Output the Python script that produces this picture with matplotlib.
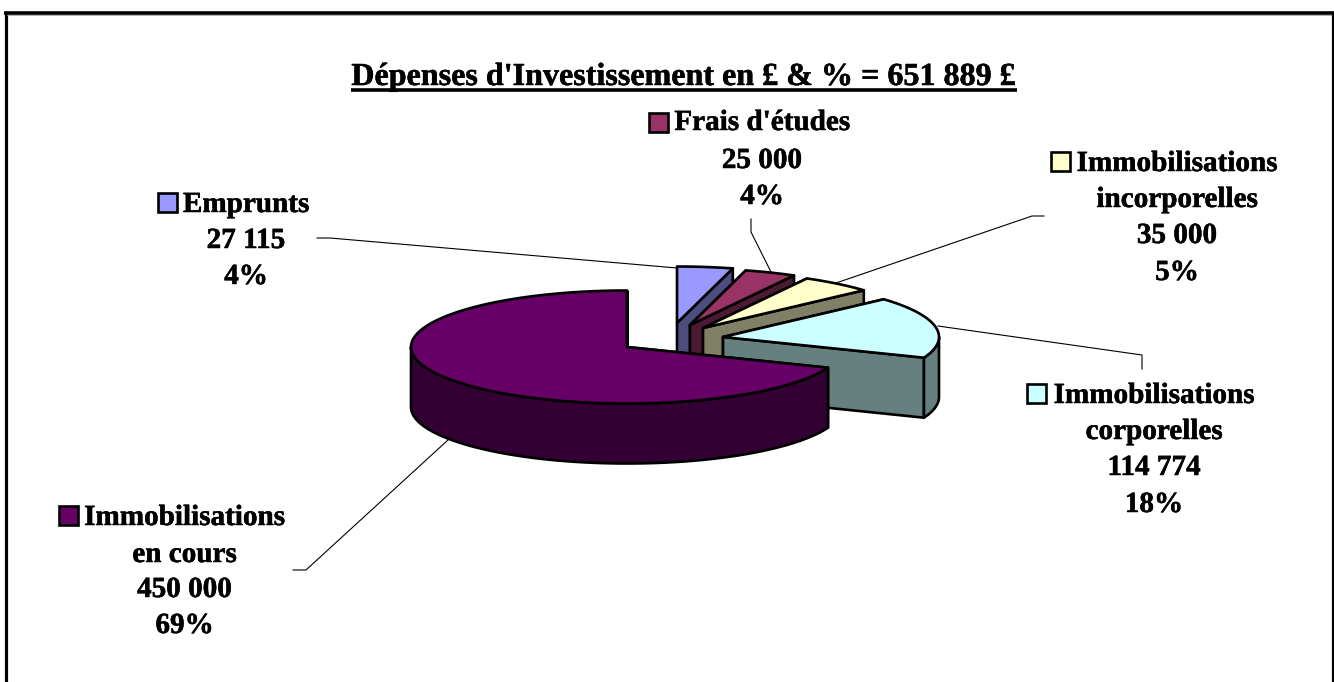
import numpy as np
import matplotlib
matplotlib.use("Agg")
import matplotlib.pyplot as plt
import matplotlib.patheffects as pe
from matplotlib.patches import Polygon, Rectangle

plt.rcParams['font.family'] = ['Liberation Serif', 'DejaVu Serif']

# ---- data (clockwise from 12 o'clock) ----
title = "Dépenses d'Investissement en £ & % = 651 889 £"
names = [["Emprunts"], ["Frais d'études"], ["Immobilisations", "incorporelles"],
         ["Immobilisations", "corporelles"], ["Immobilisations", "en cours"]]
values = [27115, 25000, 35000, 114774, 450000]
percents = ["4%", "4%", "5%", "18%", "69%"]

# ---- styles / layout (pixel space) ----
top_colors = ["#9999FF", "#993366", "#FFFFCC", "#CCFFFF", "#660066"]
side_colors = ["#4D4D80", "#4D1A33", "#808066", "#668080", "#330033"]
apexes = [(677, 323), (690, 325), (703, 328), (723, 337), (627, 347)]
RX, RY, DEPTH = 216, 56.5, 60
text_x = [246, 762, 1177, 1154, 184.5]
baselines = [[212, 248, 284], [130, 168, 204], [171, 207, 243, 280],
             [403, 439, 475, 512], [525, 562, 597, 633]]
keys = [(157, 192), (648, 112), (1050, 151), (1026, 383), (58, 505)]
leaders = [[(317, 238), (330, 238), (677, 268)],
           [(751, 219), (751, 232), (771, 272)],
           [(1044, 216), (1032, 216), (836, 283)],
           [(1142, 369), (1142, 355), (938, 326)],
           [(293, 570), (306, 570), (448, 440)]]
FS = 21
TITLE_FS = 23.1
LW = 1.9
BOLDER = [pe.withStroke(linewidth=0.35, foreground='k')]

fig = plt.figure(figsize=(13.34, 6.82), dpi=100)
ax = fig.add_axes([0, 0, 1, 1])
ax.set_xlim(0, 1334)
ax.set_ylim(682, 0)
ax.axis('off')

# frame
ax.plot([5.5, 5.5], [682, 12.5], color='k', lw=2.3, solid_capstyle='butt')
ax.plot([4, 1334], [12.5, 12.5], color='k', lw=2.6, solid_capstyle='butt')
ax.plot([7, 1332], [14.7, 14.7], color='#b0b0b0', lw=0.7, solid_capstyle='butt')
ax.plot([1333, 1333], [12, 682], color='k', lw=1.6, solid_capstyle='butt')


def arc(c, a0, a1, dy=0.0):
    t = np.radians(np.linspace(a0, a1, 120))
    return np.column_stack([c[0] + RX * np.sin(t), c[1] - RY * np.cos(t) + dy])


def poly(pts, color, z):
    ax.add_patch(Polygon(pts, closed=True, facecolor=color, edgecolor='k',
                         lw=LW, joinstyle='round', zorder=z))


# pie slices, back to front, angles from the values
angles = np.concatenate([[0], np.cumsum(values) / np.sum(values) * 360])
for i, (c, top, side) in enumerate(zip(apexes, top_colors, side_colors)):
    a0, a1 = angles[i], angles[i + 1]
    z = 3 + i
    for a in (a0, a1):
        edge = arc(c, a, a, 0)[0]
        poly([c, edge, (edge[0], edge[1] + DEPTH), (c[0], c[1] + DEPTH)], side, z)
    w0, w1 = max(a0, 90), min(a1, 270)
    if w1 > w0:
        poly(np.vstack([arc(c, w0, w1), arc(c, w0, w1, DEPTH)[::-1]]), side, z)
    poly(np.vstack([[c], arc(c, a0, a1)]), top, z)

# leader lines
for pts in leaders:
    xs, ys = zip(*pts)
    ax.plot(xs, ys, color='k', lw=0.8, zorder=2, solid_joinstyle='miter')

# labels
for i in range(5):
    number = f"{values[i]:,}".replace(",", " ")
    lines = names[i] + [number, percents[i]]
    for line, y in zip(lines, baselines[i]):
        ax.text(text_x[i], y, line, ha='center', va='baseline', fontsize=FS,
                fontweight='bold', color='k', zorder=10, path_effects=BOLDER)
    kx, ky = keys[i]
    ax.add_patch(Rectangle((kx + 1, ky + 1), 19, 19, facecolor=top_colors[i],
                           edgecolor='k', lw=LW, zorder=10))

# title with underline
t = ax.text(684, 85, title, ha='center', va='baseline', fontsize=TITLE_FS,
            fontweight='bold', color='k', zorder=10, path_effects=BOLDER)
fig.canvas.draw()
bb = t.get_window_extent().transformed(ax.transData.inverted())
ax.plot([bb.x0, bb.x1], [90, 90], color='k', lw=2.6, solid_capstyle='butt', zorder=10)

fig.savefig("out.png", dpi=100)
